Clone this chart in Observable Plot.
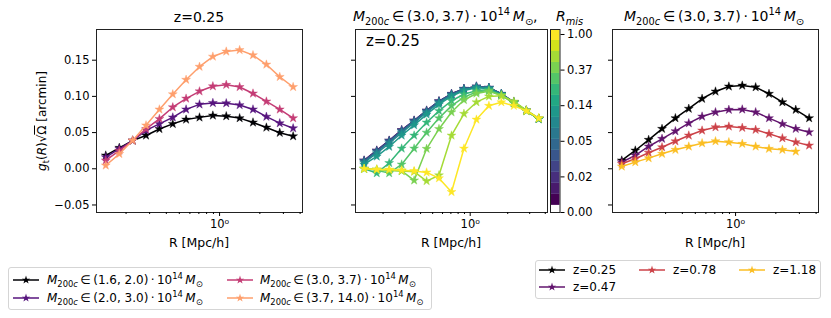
<!DOCTYPE html>
<html><head><meta charset="utf-8">
<script src="https://cdn.jsdelivr.net/npm/d3@7"></script>
<script src="https://cdn.jsdelivr.net/npm/@observablehq/plot@0.6"></script>
<style>
body{margin:0;background:#fff;font-family:"DejaVu Sans",sans-serif;}
#fig{position:relative;width:831px;height:318px;overflow:hidden;background:#fff;}
.abs{position:absolute;white-space:nowrap;color:#000;line-height:1;width:max-content;}
.abs sub,.abs sup,.item sub,.item sup{font-size:70%;line-height:0;}
.plot{position:absolute;top:0;}
.leg{position:absolute;border:1px solid #d5d5d5;border-radius:3px;background:#fff;}
.leg .item{position:absolute;white-space:nowrap;font-size:12px;line-height:1;width:max-content;}
.leg svg{position:absolute;}
</style></head><body><div id="fig"></div>
<script>
// ---------------- data ----------------
const R = [0.141, 0.178, 0.224, 0.282, 0.355, 0.447, 0.562, 0.708, 0.891, 1.122, 1.413, 1.778, 2.239, 2.818, 3.548];

// Panel 1: z=0.25, four mass bins
const massBins = ["(1.6, 2.0)", "(2.0, 3.0)", "(3.0, 3.7)", "(3.7, 14.0)"];
const g_m16_20  = [0.0184, 0.029, 0.039, 0.046, 0.055, 0.062, 0.068, 0.071, 0.0736, 0.0727, 0.070, 0.064, 0.057, 0.0497, 0.045];
const g_m20_30  = [0.016, 0.0276, 0.039, 0.053, 0.062, 0.071, 0.082, 0.089, 0.091, 0.0906, 0.088, 0.082, 0.072, 0.063, 0.056];
const g_m30_37  = [0.0115, 0.025, 0.039, 0.055, 0.069, 0.085, 0.097, 0.107, 0.114, 0.116, 0.113, 0.104, 0.093, 0.082, 0.070];
const g_m37_140 = [0.0046, 0.0206, 0.039, 0.060, 0.082, 0.103, 0.123, 0.141, 0.155, 0.162, 0.164, 0.157, 0.144, 0.127, 0.113];

// Panel 2: M in (3.0,3.7), z=0.25, miscentering R_mis
const rmisValues = [0.008, 0.018, 0.03, 0.05, 0.08, 0.12, 0.2, 0.28, 0.4, 0.55, 1.0];
const g_rmis_0008 = [0.0115, 0.0253, 0.039, 0.0535, 0.0667, 0.0805, 0.0934, 0.1036, 0.1105, 0.1137, 0.112, 0.1036, 0.092, 0.0805, 0.069];
const g_rmis_0018 = [0.0113, 0.0250, 0.0388, 0.0533, 0.0665, 0.0803, 0.0932, 0.1034, 0.1104, 0.1136, 0.1119, 0.1035, 0.0919, 0.0804, 0.069];
const g_rmis_003  = [0.0110, 0.0246, 0.0384, 0.0529, 0.0662, 0.0800, 0.0930, 0.1032, 0.1102, 0.1135, 0.1118, 0.1034, 0.0919, 0.0804, 0.069];
const g_rmis_005  = [0.0100, 0.0236, 0.0374, 0.0520, 0.0654, 0.0793, 0.0924, 0.1027, 0.1098, 0.1132, 0.1116, 0.1033, 0.0918, 0.0803, 0.069];
const g_rmis_008  = [0.0085, 0.0215, 0.0352, 0.0500, 0.0637, 0.0778, 0.0912, 0.1018, 0.1091, 0.1127, 0.1113, 0.1031, 0.0917, 0.0803, 0.069];
const g_rmis_012  = [0.0060, 0.0170, 0.0305, 0.0460, 0.0603, 0.0750, 0.0890, 0.1002, 0.1080, 0.1119, 0.1108, 0.1028, 0.0915, 0.0802, 0.069];
const g_rmis_020  = [0.0000, -0.0060, 0.0080, 0.0280, 0.0460, 0.0640, 0.0800, 0.0940, 0.1030, 0.1080, 0.1090, 0.1020, 0.0910, 0.0800, 0.069];
const g_rmis_028  = [0.0000, -0.0020, -0.0060, 0.0060, 0.0280, 0.0500, 0.0700, 0.0870, 0.0990, 0.1060, 0.1080, 0.1020, 0.0910, 0.0800, 0.069];
const g_rmis_040  = [0.0000, -0.0010, -0.0020, -0.0030, -0.0160, 0.0276, 0.0550, 0.0780, 0.0950, 0.1040, 0.1070, 0.1010, 0.0905, 0.0798, 0.069];
const g_rmis_055  = [0.0000, -0.0010, -0.0020, -0.0030, -0.0040, -0.0170, -0.0090, 0.0460, 0.0760, 0.0920, 0.1000, 0.1010, 0.0930, 0.0810, 0.070];
const g_rmis_100  = [0.0000, -0.0010, -0.0010, -0.0020, -0.0030, -0.0050, -0.0130, -0.0320, 0.0280, 0.0680, 0.0870, 0.0920, 0.0870, 0.0800, 0.070];
const rmisSeries = [g_rmis_0008, g_rmis_0018, g_rmis_003, g_rmis_005, g_rmis_008, g_rmis_012, g_rmis_020, g_rmis_028, g_rmis_040, g_rmis_055, g_rmis_100];

// Panel 3: M in (3.0,3.7), four redshifts
const redshifts = ["z=0.25", "z=0.47", "z=0.78", "z=1.18"];
const g_z025 = [0.0115, 0.0253, 0.040, 0.0552, 0.070, 0.083, 0.0967, 0.1068, 0.1137, 0.115, 0.1127, 0.1036, 0.092, 0.0815, 0.070];
const g_z047 = [0.0092, 0.0184, 0.0308, 0.0414, 0.052, 0.063, 0.0722, 0.0782, 0.0815, 0.082, 0.0782, 0.070, 0.062, 0.0552, 0.0506];
const g_z078 = [0.0069, 0.0138, 0.0221, 0.0298, 0.038, 0.046, 0.0529, 0.0575, 0.0584, 0.0566, 0.0539, 0.0483, 0.0423, 0.0368, 0.0322];
const g_z118 = [0.0032, 0.0092, 0.0147, 0.0207, 0.0262, 0.0308, 0.0354, 0.0381, 0.0368, 0.0345, 0.0308, 0.0276, 0.0262, 0.0239];

// ticks
const yTicks = [-0.05, 0.0, 0.05, 0.10, 0.15];
const yTickLabels = ["\u22120.05", "0.00", "0.05", "0.10", "0.15"];
const xMajor = [1];
const xMinor = [0.2, 0.3, 0.4, 0.5, 0.6, 0.7, 0.8, 0.9, 2, 3, 4];
const cbarTickPos = [0, 1, 2, 3, 4, 5];
const cbarTickLabels = ["0.00", "0.02", "0.05", "0.14", "0.37", "1.00"];

// ---------------- helpers ----------------
const fig = document.getElementById("fig");
const xDomain = [Math.pow(10, -0.92), Math.pow(10, 0.62)];
const yDomain = [-0.0604, 0.1924];
const massColors = [0, 0.267, 0.533, 0.8].map(t => d3.interpolateMagma(t));
const zColors = ["#000000", d3.interpolateInferno(0.28), d3.interpolateInferno(0.55), d3.interpolateInferno(0.85)];

// colorbar bins
const cbarTop = 5.14, cbarWhite = 0.2, nBins = 16;
const binW = (cbarTop - cbarWhite) / nBins;
function rmisColor(r) {
  const pos = 5 + Math.log(r);
  let i = Math.floor((pos - cbarWhite) / binW);
  i = Math.max(0, Math.min(nBins - 1, i));
  return d3.interpolateViridis(i / (nBins - 1));
}

function panel({left, mL, frameW, series, yLabels}) {
  const marks = [];
  for (const s of series) {
    const d = s.vals.map((g, i) => ({R: R[i], g}));
    marks.push(Plot.line(d, {x: "R", y: "g", stroke: s.color, strokeWidth: 1.5}));
    marks.push(Plot.dot(d, {x: "R", y: "g", symbol: "star", r: 2.8, fill: s.color, stroke: s.color, strokeWidth: 0.4}));
  }
  marks.push(Plot.frame({stroke: "#222", strokeWidth: 1}));
  marks.push(Plot.axisX({ticks: xMajor, tickSize: 4, tickPadding: 3, tickFormat: () => "10\u2070", label: null, fontSize: 11.5}));
  marks.push(Plot.axisX({ticks: xMinor, tickSize: 2, tickFormat: () => "", label: null}));
  marks.push(Plot.axisY({ticks: yTicks, tickSize: 4, tickPadding: 3, label: null, fontSize: 11.5,
    tickFormat: yLabels ? (d => yTickLabels[yTicks.indexOf(d)]) : (() => "")}));
  const p = Plot.plot({
    width: mL + frameW + 8, height: 236,
    marginLeft: mL, marginRight: 8, marginTop: 29, marginBottom: 24,
    x: {type: "log", domain: xDomain, axis: null},
    y: {domain: yDomain, axis: null},
    style: {fontFamily: "DejaVu Sans, sans-serif", fontSize: "11.5px", background: "transparent", color: "#000"},
    marks
  });
  p.classList.add("plot");
  p.style.left = (left - mL) + "px";
  fig.appendChild(p);
}

function addText(html, left, top, size, extra = "") {
  const d = document.createElement("div");
  d.className = "abs";
  d.innerHTML = html;
  d.style.cssText += `left:${left}px;top:${top}px;font-size:${size}px;${extra}`;
  fig.appendChild(d);
  return d;
}

const mathM = a => `<i>M</i><sub>200<i>c</i></sub>\u2009\u2208\u2009${a}\u2009\u00b7\u200910<sup>14</sup>\u2009<i>M</i><sub>\u2299</sub>`;

// ---------------- panels ----------------
panel({left: 96, mL: 96, frameW: 206, yLabels: true,
  series: [g_m16_20, g_m20_30, g_m30_37, g_m37_140].map((v, i) => ({vals: v, color: massColors[i]}))});

panel({left: 355, mL: 20, frameW: 192, yLabels: false,
  series: rmisSeries.map((v, i) => ({vals: v, color: rmisColor(rmisValues[i])}))});

panel({left: 612, mL: 20, frameW: 206, yLabels: false,
  series: [g_z025, g_z047, g_z078, g_z118].map((v, i) => ({vals: v, color: zColors[i]}))});

// colorbar
{
  const bins = [{x1: 0, x2: 1, y1: 0, y2: cbarWhite, fill: "#ffffff"}]
    .concat(d3.range(nBins).map(i => ({x1: 0, x2: 1, y1: cbarWhite + i * binW, y2: cbarWhite + (i + 1) * binW, fill: d3.interpolateViridis(i / (nBins - 1))})));
  const p = Plot.plot({
    width: 60, height: 236, marginLeft: 5, marginRight: 45.5, marginTop: 29, marginBottom: 24,
    x: {domain: [0, 1], axis: null},
    y: {domain: [0, cbarTop], axis: null},
    color: {type: "identity"},
    style: {fontFamily: "DejaVu Sans, sans-serif", fontSize: "11.5px", background: "transparent", color: "#000"},
    marks: [
      Plot.rect(bins, {x1: "x1", x2: "x2", y1: "y1", y2: "y2", fill: "fill"}),
      Plot.frame({stroke: "#222", strokeWidth: 1}),
      Plot.axisY({anchor: "right", ticks: cbarTickPos, tickSize: 4, tickPadding: 3, label: null, fontSize: 11.5,
        tickFormat: d => cbarTickLabels[cbarTickPos.indexOf(d)]})
    ]
  });
  p.classList.add("plot");
  p.style.left = "545px";
  fig.appendChild(p);
}

// titles & labels
addText("z=0.25", 199, 10, 14, "transform:translateX(-50%);");
addText(mathM("(3.0,\u20093.7)") + ",", 353, 9, 14);
addText("<i>R</i><sub><i>mis</i></sub>", 556, 9, 14);
addText(mathM("(3.0,\u20093.7)"), 714, 9, 14, "transform:translateX(-50%);");
addText("z=0.25", 366, 34, 15);
for (const cx of [199, 451, 715]) addText("R [Mpc/h]", cx, 237, 12.5, "transform:translateX(-50%);");
addText(`<i>g</i><sub>t</sub>(<i>R</i>)\u221a<span style="text-decoration:overline">\u03a9</span> [arcmin]`, 41.5, 121, 12,
  "transform:translate(-50%,-50%) rotate(-90deg);");

// legends
function handle(color) {
  const s = d3.create("svg").attr("width", 26).attr("height", 10);
  s.append("line").attr("x1", 0).attr("x2", 26).attr("y1", 5).attr("y2", 5).attr("stroke", color).attr("stroke-width", 1.5);
  s.append("path").attr("d", d3.symbol(d3.symbolStar, 22)()).attr("transform", "translate(13,5)").attr("fill", color);
  return s.node();
}
function legend(left, top, w, h, items) {
  const box = document.createElement("div");
  box.className = "leg";
  box.style.cssText += `left:${left}px;top:${top}px;width:${w}px;height:${h}px;`;
  for (const it of items) {
    const hs = handle(it.color);
    hs.style.left = it.hx + "px"; hs.style.top = (it.cy - 5) + "px";
    box.appendChild(hs);
    const t = document.createElement("div");
    t.className = "item";
    t.innerHTML = it.html;
    t.style.left = it.tx + "px"; t.style.top = (it.cy - 6.5) + "px";
    box.appendChild(t);
  }
  fig.appendChild(box);
}
legend(8, 267, 422, 41, [
  {color: massColors[0], html: mathM(massBins[0]), hx: 4, tx: 38, cy: 12},
  {color: massColors[1], html: mathM(massBins[1]), hx: 4, tx: 38, cy: 30},
  {color: massColors[2], html: mathM(massBins[2]), hx: 218, tx: 251, cy: 12},
  {color: massColors[3], html: mathM(massBins[3]), hx: 218, tx: 251, cy: 30}
]);
legend(535, 260, 284, 37, [
  {color: zColors[0], html: redshifts[0], hx: 3, tx: 37, cy: 9},
  {color: zColors[1], html: redshifts[1], hx: 3, tx: 37, cy: 26},
  {color: zColors[2], html: redshifts[2], hx: 103, tx: 137, cy: 9},
  {color: zColors[3], html: redshifts[3], hx: 203, tx: 237, cy: 9}
]);
</script></body></html>
